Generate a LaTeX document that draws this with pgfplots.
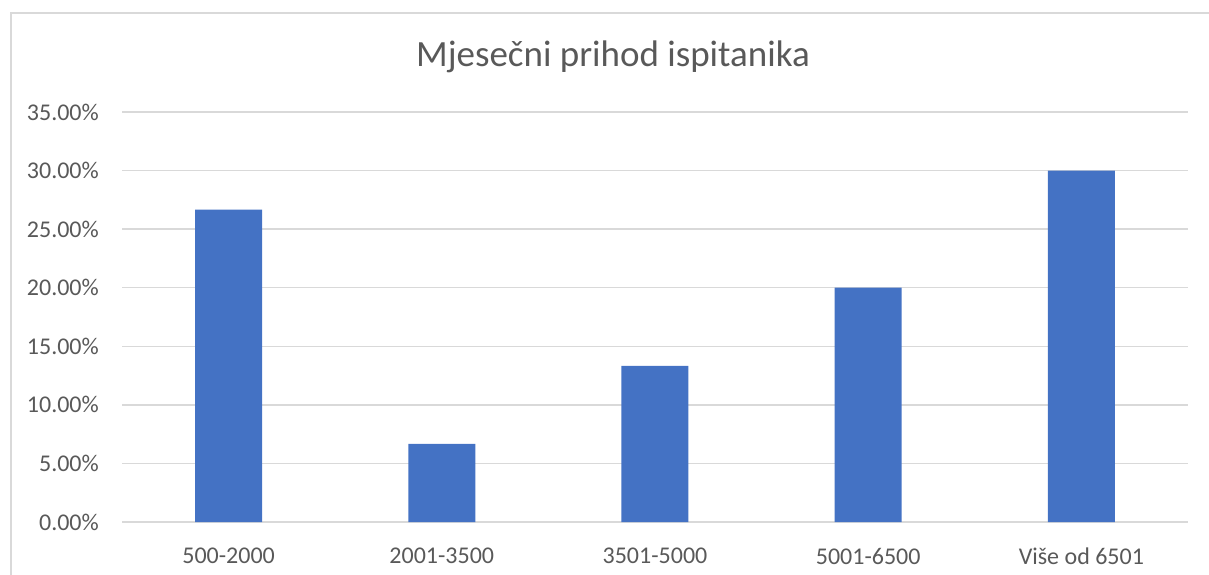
\documentclass[border=0pt]{standalone}
\usepackage{fontspec}
\setmainfont{Carlito}
\usepackage{pgfplots}
\pgfplotsset{compat=1.18}
\definecolor{barblue}{HTML}{4472C4}
\definecolor{gridgray}{HTML}{D9D9D9}
\definecolor{txtgray}{HTML}{595959}
\begin{document}
\begin{tikzpicture}
\begin{axis}[
  at={(122bp,53bp)}, anchor=south west,
  scale only axis, width=1066bp, height=410bp,
  xmin=-0.5, xmax=4.5, ymin=0, ymax=35,
  xtick={0,1,2,3,4},
  xticklabels={500-2000,2001-3500,3501-5000,5001-6500,Više od 6501},
  ytick={0,5,10,15,20,25,30,35},
  yticklabels={0.00\%,5.00\%,10.00\%,15.00\%,20.00\%,25.00\%,30.00\%,35.00\%},
  axis line style={draw=none},
  major tick length=0pt,
  ymajorgrids, grid style={gridgray, line width=1.3bp},
  xticklabel style={font=\fontsize{24bp}{28bp}\selectfont, text=txtgray, inner sep=0pt, anchor=north, yshift=-26bp},
  yticklabel style={font=\fontsize{24bp}{28bp}\selectfont, text=txtgray, inner sep=0pt, anchor=east, xshift=-23bp},
  clip=false,
]
\addplot[ybar, bar width=67bp, fill=barblue, draw=none] coordinates {
  (0,26.67) (1,6.67) (2,13.33) (3,20.00) (4,30.00)
};
\end{axis}
\node[anchor=base, text=txtgray, font=\fontsize{37bp}{44bp}\selectfont, inner sep=0pt] at (613bp,508bp) {Mjesečni prihod ispitanika};
\draw[gridgray, line width=1.5bp] (11bp,0) -- (11bp,562bp) -- (1209bp,562bp);
\pgfresetboundingbox
\path[use as bounding box] (0,0) rectangle (1209bp,575bp);
\end{tikzpicture}
\end{document}
